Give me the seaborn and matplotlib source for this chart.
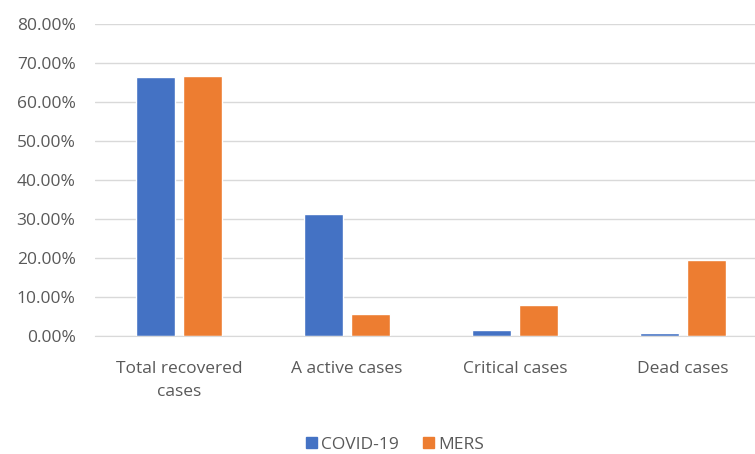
import pandas as pd
import seaborn as sns
import matplotlib.pyplot as plt
from matplotlib.ticker import PercentFormatter
from matplotlib.patches import Patch

categories = ["Total recovered\ncases", "A active cases", "Critical cases", "Dead cases"]
series = ["COVID-19", "MERS"]
covid_values = [0.663, 0.312, 0.015, 0.008]
mers_values = [0.667, 0.057, 0.079, 0.194]
colors = ["#4472C4", "#ED7D31"]

df = pd.DataFrame({
    "category": categories * 2,
    "series": [series[0]] * 4 + [series[1]] * 4,
    "value": covid_values + mers_values,
})

sns.set_style("white")
plt.rcParams["font.family"] = ["Open Sans", "DejaVu Sans"]
text_color = "#595959"

fig = plt.figure(figsize=(7.55, 4.54), dpi=100)
# plot area runs past the right edge, as in the cropped original
ax = fig.add_axes([95 / 755, 1 - 336 / 454, 672 / 755, 312 / 454])

sns.barplot(data=df, x="category", y="value", hue="series", palette=colors,
            order=categories, hue_order=series, width=0.56, gap=0.19,
            legend=False, ax=ax, saturation=1)

ax.set_ylim(0, 0.8)
ax.set_xlim(-0.5, 3.5)
ax.set_yticks([i / 10 for i in range(9)])
ax.yaxis.set_major_formatter(PercentFormatter(1.0, decimals=2))
ax.grid(axis="y", color="#D9D9D9", linewidth=1)
ax.set_axisbelow(True)
for s in ["left", "right", "top"]:
    ax.spines[s].set_visible(False)
ax.spines["bottom"].set_color("#D9D9D9")
ax.tick_params(axis="y", length=0, pad=14, labelsize=12.5, labelcolor=text_color)
ax.tick_params(axis="x", length=0, pad=18, labelsize=12.5, labelcolor=text_color)
for lbl in ax.get_xticklabels():
    lbl.set_linespacing(1.55)
ax.set_xlabel("")
ax.set_ylabel("")

handles = [Patch(color=c, label=s) for c, s in zip(colors, series)]
fig.legend(handles=handles, loc="center", bbox_to_anchor=(395 / 755, 1 - 445 / 454),
           ncol=2, frameon=False, fontsize=12.5, labelcolor=text_color,
           handlelength=0.6, handleheight=0.6, handletextpad=0.25, columnspacing=1.4,
           borderpad=0.1)

fig.savefig("out.png", dpi=100)
